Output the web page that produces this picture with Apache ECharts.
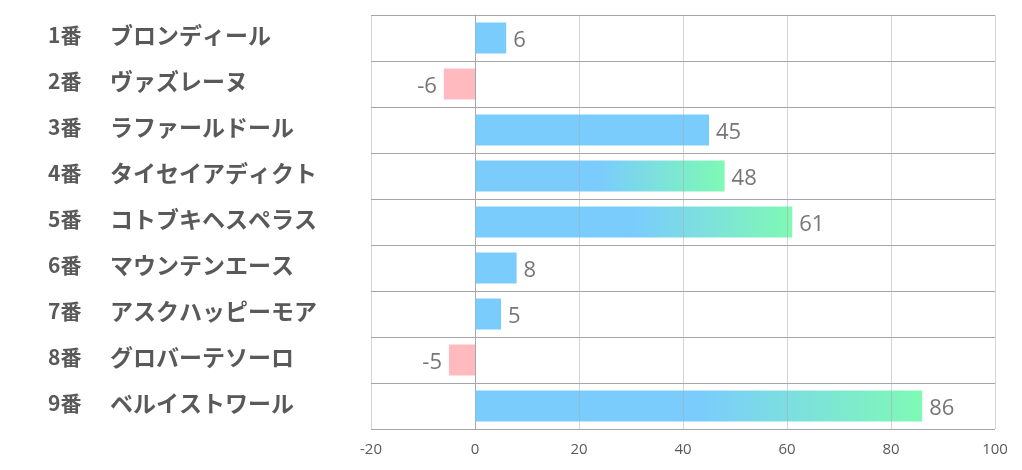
<!DOCTYPE html>
<html>
<head>
<meta charset="utf-8">
<script src="https://cdn.jsdelivr.net/npm/echarts@6/dist/echarts.min.js"></script>
<style>html,body{margin:0;padding:0;background:#fff;}#c{width:1022px;height:470px;}</style>
</head>
<body>
<div id="c"></div>
<script>
const numbers = ['1番','2番','3番','4番','5番','6番','7番','8番','9番'];
const names = ['ブロンディール','ヴァズレーヌ','ラファールドール','タイセイアディクト','コトブキヘスペラス','マウンテンエース','アスクハッピーモア','グロバーテソーロ','ベルイストワール'];
const values = [6, -6, 45, 48, 61, 8, 5, -5, 86];
const xTicks = { min: -20, max: 100, interval: 20 };

const BLUE = '#7accfd';
const GREEN = '#7ff9b5';
const PINK = '#ffbac0';
const top3 = values.slice().sort((a, b) => b - a).slice(0, 3);

const chart = echarts.init(document.getElementById('c'));
const data = values.map(v => {
  let color;
  if (v < 0) color = PINK;
  else if (top3.includes(v)) color = new echarts.graphic.LinearGradient(0, 0, 1, 0, [
    { offset: 0, color: BLUE }, { offset: 0.5, color: BLUE }, { offset: 1, color: GREEN }
  ]);
  else color = BLUE;
  return {
    value: v,
    itemStyle: { color },
    label: { position: v < 0 ? 'left' : 'right' }
  };
});

chart.setOption({
  animation: false,
  grid: { left: 371, right: 27, top: 15, bottom: 41, containLabel: false },
  xAxis: {
    type: 'value',
    min: xTicks.min, max: xTicks.max, interval: xTicks.interval,
    z: 3,
    axisLine: { show: false },
    axisTick: { show: false },
    axisLabel: { color: '#595959', fontSize: 15, margin: 13, fontFamily: 'Open Sans, sans-serif' },
    splitLine: { show: true, lineStyle: { color: 'rgba(170,170,170,0.5)', width: 1 } }
  },
  yAxis: {
    type: 'category',
    inverse: true,
    data: numbers.map((n, i) => n + '|' + names[i]),
    axisLine: { show: true, lineStyle: { color: '#a6a6a6' } },
    axisTick: { show: false },
    splitLine: { show: true, lineStyle: { color: '#a6a6a6', width: 1 } },
    axisLabel: {
      align: 'left',
      margin: 323,
      padding: [0, 0, 6, 0],
      formatter: function (val) {
        const p = val.split('|');
        return '{n|' + p[0] + '}{m|' + p[1] + '}';
      },
      rich: {
        n: { width: 62, fontSize: 21, fontWeight: 'bold', color: '#595959', fontFamily: 'Noto Sans CJK JP' },
        m: { fontSize: 23, fontWeight: 'bold', color: '#595959', fontFamily: 'Noto Sans CJK JP' }
      }
    }
  },
  series: [{
    type: 'bar',
    data: data,
    barWidth: 31,
    label: {
      show: true,
      distance: 7,
      offset: [0, 3],
      color: '#767676',
      fontSize: 22,
      fontFamily: 'Open Sans, sans-serif'
    }
  }]
});
</script>
</body>
</html>
